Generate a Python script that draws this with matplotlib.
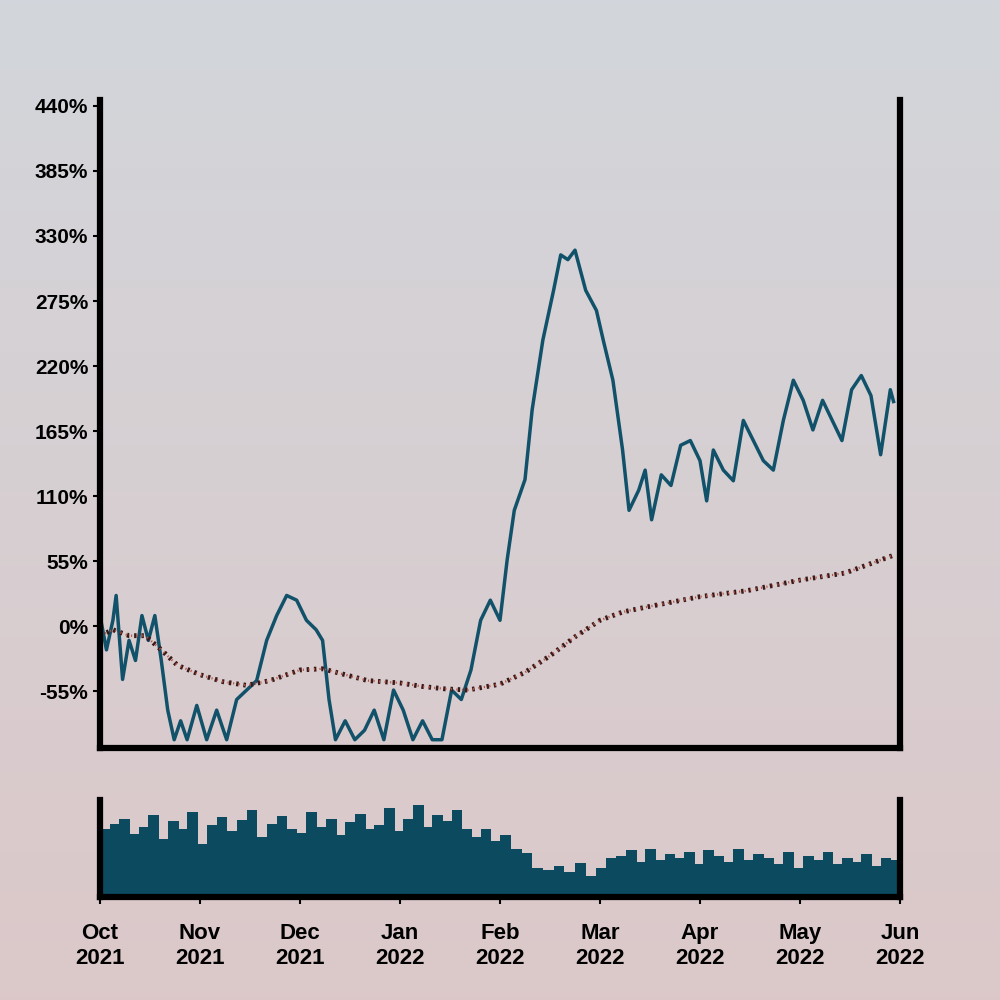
import matplotlib.pyplot as plt
import numpy as np
import pandas as pd

# main line: (date, percent)
line_dates = ["2021-10-01", "2021-10-03", "2021-10-05", "2021-10-06", "2021-10-08", "2021-10-10",
              "2021-10-12", "2021-10-14", "2021-10-16", "2021-10-18", "2021-10-20", "2021-10-22",
              "2021-10-24", "2021-10-26", "2021-10-28", "2021-10-31", "2021-11-03", "2021-11-06",
              "2021-11-09", "2021-11-12", "2021-11-15", "2021-11-18", "2021-11-21", "2021-11-24",
              "2021-11-27", "2021-11-30", "2021-12-03", "2021-12-06", "2021-12-08", "2021-12-10",
              "2021-12-12", "2021-12-15", "2021-12-18", "2021-12-21", "2021-12-24", "2021-12-27",
              "2021-12-30", "2022-01-02", "2022-01-05", "2022-01-08", "2022-01-11", "2022-01-14",
              "2022-01-17", "2022-01-20", "2022-01-23", "2022-01-26", "2022-01-29", "2022-02-01",
              "2022-02-03", "2022-02-05", "2022-02-08", "2022-02-10", "2022-02-13", "2022-02-16",
              "2022-02-18", "2022-02-20", "2022-02-22", "2022-02-25", "2022-02-28", "2022-03-02",
              "2022-03-05", "2022-03-08", "2022-03-10", "2022-03-13", "2022-03-15", "2022-03-17",
              "2022-03-20", "2022-03-23", "2022-03-26", "2022-03-29", "2022-04-01", "2022-04-03",
              "2022-04-05", "2022-04-08", "2022-04-11", "2022-04-14", "2022-04-17", "2022-04-20",
              "2022-04-23", "2022-04-26", "2022-04-29", "2022-05-02", "2022-05-05", "2022-05-08",
              "2022-05-11", "2022-05-14", "2022-05-17", "2022-05-20", "2022-05-23", "2022-05-26",
              "2022-05-29", "2022-05-30"]
line_vals = [9, -20, 5, 26, -45, -12, -29, 9, -12, 9, -29, -71, -96, -80, -96, -67, -96, -71,
             -96, -62, -54, -46, -12, 9, 26, 22, 5, -3, -12, -62, -96, -80, -96, -88, -71, -96,
             -54, -71, -96, -80, -96, -96, -54, -62, -37, 5, 22, 5, 56, 98, 124, 183, 242, 284,
             314, 310, 318, 284, 267, 242, 208, 149, 98, 115, 132, 90, 128, 119, 153, 157, 140,
             106, 149, 132, 123, 174, 157, 140, 132, 174, 208, 191, 166, 191, 174, 157, 200, 212,
             195, 145, 200, 190]

smooth_dates = ["2021-10-01", "2021-10-05", "2021-10-10", "2021-10-15", "2021-10-20", "2021-10-25",
                "2021-11-01", "2021-11-08", "2021-11-15", "2021-11-22", "2021-12-01", "2021-12-08",
                "2021-12-15", "2021-12-22", "2022-01-01", "2022-01-08", "2022-01-15", "2022-01-22",
                "2022-02-01", "2022-02-08", "2022-02-15", "2022-02-22", "2022-03-01", "2022-03-08",
                "2022-03-15", "2022-04-01", "2022-04-15", "2022-05-01", "2022-05-15", "2022-05-30"]
smooth_vals = [-8, -3, -8, -8, -20, -33, -41, -47, -50, -46, -37, -36, -41, -46, -48, -51, -53,
               -54, -49, -39, -25, -9, 5, 12, 16, 25, 30, 39, 45, 60]

# volume every 3 days, relative height (0-100)
vol_start = "2021-10-01"
vol_vals = [70, 75, 80, 65, 72, 85, 60, 78, 70, 88, 55, 74, 82, 68, 79, 90, 62, 75, 84, 70,
            66, 88, 72, 80, 64, 77, 86, 70, 74, 92, 68, 80, 95, 72, 85, 78, 90, 70, 62, 70,
            58, 64, 50, 45, 30, 28, 32, 26, 35, 22, 30, 40, 42, 48, 36, 50, 38, 44, 40, 46,
            34, 48, 42, 36, 50, 38, 44, 40, 34, 46, 30, 42, 38, 46, 34, 40, 36, 44, 32, 40, 38]
vol_dates = pd.date_range(vol_start, periods=len(vol_vals), freq="3D")

month_labels = ["Oct\n2021", "Nov\n2021", "Dec\n2021", "Jan\n2022", "Feb\n2022",
                "Mar\n2022", "Apr\n2022", "May\n2022", "Jun\n2022"]


def month_pos(dates):
    # months are spaced evenly on the axis
    d = pd.DatetimeIndex(pd.to_datetime(dates))
    idx = (d.year - 2021) * 12 + d.month - 10
    return np.asarray(idx + (d.day - 1) / d.days_in_month, dtype=float)


lx = month_pos(line_dates)
sx = month_pos(smooth_dates)
vx = month_pos(vol_dates)

fig = plt.figure(figsize=(10, 10), dpi=100)
bg = fig.add_axes([0, 0, 1, 1], zorder=-10)
grad = np.linspace(0, 1, 256)[:, None]
top = np.array([0.824, 0.839, 0.859])
bot = np.array([0.863, 0.784, 0.788])
bg.imshow(top + (bot - top) * grad[:, :, None], aspect="auto", extent=[0, 1, 0, 1])
bg.axis("off")

plt.rcParams["font.family"] = ["Liberation Sans", "DejaVu Sans"]
ax = fig.add_axes([0.1, 0.252, 0.8, 0.648])
ax2 = fig.add_axes([0.1, 0.103, 0.8, 0.097])

for a in (ax, ax2):
    a.set_facecolor("none")
    a.spines["top"].set_visible(False)
    for s in ("left", "right", "bottom"):
        a.spines[s].set_linewidth(4.5)
        a.spines[s].set_color("black")
    a.set_xlim(0, 8)
    a.set_xticks(range(9))

ax.tick_params(axis="y", width=1.5, length=5, labelsize=15)
ax.tick_params(axis="x", length=0, labelbottom=False)
ax.plot(lx, line_vals, color="#11526a", lw=2.5)
ax.plot(sx, smooth_vals, color="#3a1a1a", lw=3.5, ls=(0, (0.5, 1.0)))
ax.plot(sx, smooth_vals, color="#b8503f", lw=1.6, ls=(0, (0.5, 2.0)))
ax.set_ylim(-103, 445)
ticks = [-55, 0, 55, 110, 165, 220, 275, 330, 385, 440]
ax.set_yticks(ticks)
ax.set_yticklabels([f"{t}%" for t in ticks], fontweight="bold")

ax2.bar(vx, vol_vals, width=0.108, align="edge", color="#0b4a5f")
ax2.set_ylim(0, 100)
ax2.set_yticks([])
ax2.tick_params(axis="x", width=1.5, length=5, labelsize=16, pad=14)
ax2.set_xticklabels(month_labels, fontweight="bold")

fig.savefig("out.png", dpi=100)
